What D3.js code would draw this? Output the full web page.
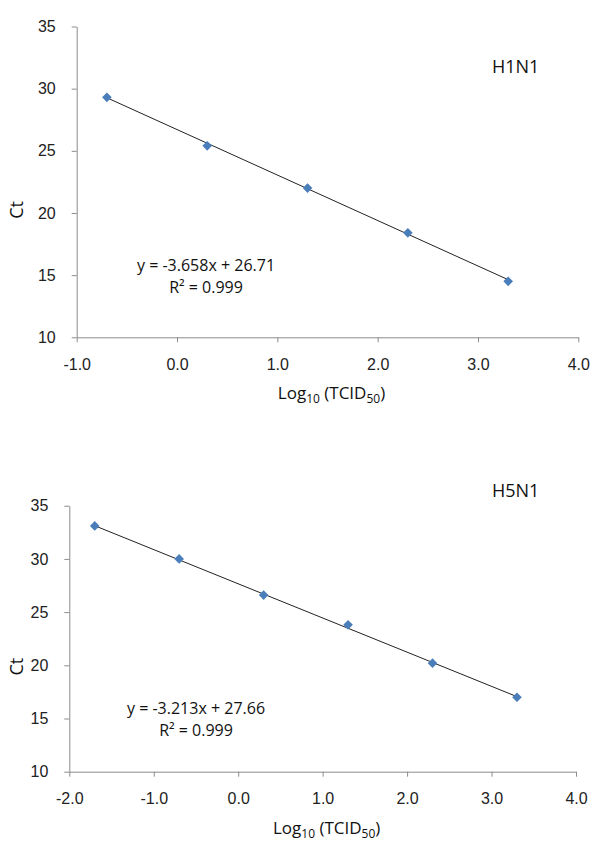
<!DOCTYPE html>
<html>
<head>
    <meta charset="utf-8">
    <script type="text/javascript" src="https://d3js.org/d3.v7.min.js"></script>
    <style>
body { margin: 0; background: #fff; }
svg { font-family: "Open Sans", Lato, sans-serif; }
.axis path, .axis line { stroke: #8c8c8c; }
.axis text { fill: #222; font-size: 16px; }
    </style>
</head>
<body>
<svg class="chart" width="600" height="849"></svg>
<script type="text/javascript">

// H1N1 standard curve
var h1n1Log = [-0.699, 0.301, 1.301, 2.301, 3.301];
var h1n1Ct = [29.3, 25.4, 22.0, 18.4, 14.5];
var h1n1Fit = [-3.658, 26.71]; // slope, intercept

// H5N1 standard curve
var h5n1Log = [-1.699, -0.699, 0.301, 1.301, 2.301, 3.301];
var h5n1Ct = [33.1, 30.0, 26.6, 23.8, 20.2, 17.0];
var h5n1Fit = [-3.213, 27.66];

var ctTicks = [10, 15, 20, 25, 30, 35];
var h1n1LogTicks = [-1, 0, 1, 2, 3, 4];
var h5n1LogTicks = [-2, -1, 0, 1, 2, 3, 4];

var svg = d3.select(".chart");

function drawPanel(p) {
	var x = d3.scaleLinear().domain(d3.extent(p.xTicks)).range([p.left, p.right]);
	var y = d3.scaleLinear().domain(d3.extent(ctTicks)).range([p.bottom, p.top]);
	var g = svg.append("g");

	g.append("g")
		.attr("class", "axis")
		.attr("transform", "translate(0," + p.bottom + ")")
		.call(d3.axisBottom(x).tickValues(p.xTicks).tickSize(5).tickSizeOuter(0)
			.tickFormat(function(d) { return d.toFixed(1); }))
		.call(function(a) { a.selectAll("text").attr("y", 21); });

	g.append("g")
		.attr("class", "axis")
		.attr("transform", "translate(" + p.left + ",0)")
		.call(d3.axisLeft(y).tickValues(ctTicks).tickSize(5).tickSizeOuter(0))
		.call(function(a) { a.selectAll("text").attr("x", -21); });

	// trend line across the data range
	var xs = d3.extent(p.xs);
	g.append("line")
		.attr("x1", x(xs[0])).attr("y1", y(p.fit[0] * xs[0] + p.fit[1]))
		.attr("x2", x(xs[1])).attr("y2", y(p.fit[0] * xs[1] + p.fit[1]))
		.attr("stroke", "#222").attr("stroke-width", 1);

	g.selectAll(".pt")
		.data(p.xs)
		.enter().append("path")
		.attr("class", "pt")
		.attr("d", "M0,-4.8L4.8,0L0,4.8L-4.8,0Z")
		.attr("fill", "#4a7ebb")
		.attr("transform", function(d, i) { return "translate(" + x(d) + "," + y(p.ys[i]) + ")"; });

	g.append("text")
		.attr("x", p.nameX).attr("y", p.nameY)
		.attr("font-size", 18).attr("fill", "#111")
		.text(p.name);

	var eq = g.append("text")
		.attr("text-anchor", "middle")
		.attr("font-size", 16).attr("fill", "#111");
	eq.append("tspan").attr("x", p.eqX).attr("y", p.eqY)
		.text("y = " + p.fit[0].toFixed(3) + "x + " + p.fit[1].toFixed(2));
	eq.append("tspan").attr("x", p.eqX).attr("dy", 22)
		.text("R² = 0.999");

	var t = g.append("text")
		.attr("x", (p.left + p.right) / 2 + 4).attr("y", p.bottom + 62)
		.attr("text-anchor", "middle")
		.attr("font-size", 17).attr("fill", "#111");
	t.append("tspan").text("Log");
	t.append("tspan").attr("font-size", 12).attr("dy", 4).text("10");
	t.append("tspan").attr("dy", -4).text(" (TCID");
	t.append("tspan").attr("font-size", 12).attr("dy", 4).text("50");
	t.append("tspan").attr("dy", -4).text(")");

	g.append("text")
		.attr("transform", "translate(23," + ((p.top + p.bottom) / 2 + 28) + ") rotate(-90)")
		.attr("text-anchor", "middle")
		.attr("font-size", 18).attr("fill", "#111")
		.text("Ct");
}

drawPanel({
	xs: h1n1Log, ys: h1n1Ct, fit: h1n1Fit, xTicks: h1n1LogTicks, name: "H1N1",
	left: 76.7, right: 578.3, top: 26.5, bottom: 337.3,
	nameX: 492, nameY: 73, eqX: 206, eqY: 271
});

drawPanel({
	xs: h5n1Log, ys: h5n1Ct, fit: h5n1Fit, xTicks: h5n1LogTicks, name: "H5N1",
	left: 69.3, right: 576, top: 505.7, bottom: 771.7,
	nameX: 492, nameY: 497, eqX: 196, eqY: 714
});
</script>
</body>
</html>
